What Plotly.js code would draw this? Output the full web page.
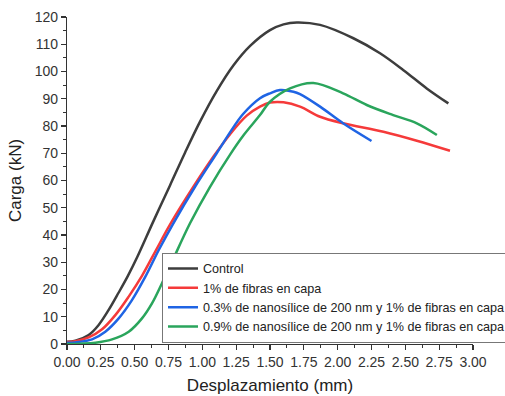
<!DOCTYPE html>
<html>
<head>
<meta charset="utf-8">
<script src="https://cdn.plot.ly/plotly-3.0.1.min.js"></script>
<style>html,body{margin:0;padding:0;background:#fff;}#chart{width:505px;height:396px;}</style>
</head>
<body>
<div id="chart"></div>
<script>
const seriesNames = [
  "Control",
  "1% de fibras en capa",
  "0.3% de nanosílice de 200 nm y 1% de fibras en capa",
  "0.9% de nanosílice de 200 nm y 1% de fibras en capa"
];
const controlX = [0, 0.062, 0.16, 0.234, 0.308, 0.382, 0.45, 0.52, 0.638, 0.761, 0.872, 0.983, 1.106, 1.229, 1.353, 1.5, 1.6, 1.698, 1.87, 2.116, 2.313, 2.486, 2.658, 2.818];
const controlY = [0.8, 1.2, 3.3, 7, 12.5, 18.9, 25, 32, 45, 58.2, 70.2, 81.6, 92.8, 102.2, 109.4, 115.2, 117.3, 118, 117.1, 112.2, 106.7, 100.5, 93.8, 88.3];
const fibrasX = [0, 0.062, 0.16, 0.259, 0.357, 0.456, 0.554, 0.653, 0.761, 0.934, 1.081, 1.205, 1.328, 1.426, 1.5, 1.6, 1.722, 1.87, 2.04, 2.338, 2.585, 2.83];
const fibrasY = [0.7, 1.0, 2.4, 5.4, 10.6, 17.4, 25, 34, 43.8, 57.7, 68.7, 77, 83.8, 87.1, 88.6, 88.7, 87.1, 83.4, 81, 77.9, 74.6, 70.9];
const nano03X = [0, 0.062, 0.185, 0.283, 0.382, 0.48, 0.579, 0.678, 0.786, 0.946, 1.106, 1.229, 1.303, 1.426, 1.5, 1.574, 1.673, 1.722, 1.87, 2.04, 2.25];
const nano03Y = [0.5, 0.6, 1.7, 4.5, 9.4, 16.1, 24.7, 34.5, 44.3, 57.7, 70, 79.5, 84.5, 90.2, 92, 93.2, 92.6, 91.7, 87.1, 81, 74.5];
const nano09X = [0, 0.21, 0.333, 0.456, 0.554, 0.628, 0.702, 0.776, 0.909, 1.057, 1.205, 1.303, 1.426, 1.5, 1.648, 1.82, 2.04, 2.215, 2.41, 2.585, 2.733];
const nano09Y = [0, 0.5, 1.7, 4.5, 9.4, 14.9, 22.3, 30.2, 44.3, 57.7, 69.5, 76.5, 84, 88.9, 93.8, 95.8, 92, 87.7, 84, 81, 76.7];
const xTickVals = [0, 0.25, 0.5, 0.75, 1.0, 1.25, 1.5, 1.75, 2.0, 2.25, 2.5, 2.75, 3.0];
const yTickVals = [0, 10, 20, 30, 40, 50, 60, 70, 80, 90, 100, 110, 120];

const colors = ["#3d3d3d", "#f53a3a", "#1f64e4", "#2aa55c"];
const xs = [controlX, fibrasX, nano03X, nano09X];
const ys = [controlY, fibrasY, nano03Y, nano09Y];

const traces = seriesNames.map((n, i) => ({
  x: xs[i], y: ys[i], name: n, type: "scatter", mode: "lines",
  line: {color: colors[i], width: 2.5, shape: "spline", smoothing: 1.0}
}));

const FAM = "Liberation Sans, Arial, sans-serif";
const axisFont = {family: FAM, size: 14, color: "#333"};
const layout = {
  width: 505, height: 396,
  margin: {l: 67, r: 32, t: 17, b: 52, autoexpand: false},
  paper_bgcolor: "#fff", plot_bgcolor: "#fff",
  font: {family: FAM, color: "#222"},
  showlegend: true,
  legend: {
    x: 0.234, y: 0.004, xanchor: "left", yanchor: "bottom",
    bgcolor: "#fff", bordercolor: "#777", borderwidth: 1,
    font: {family: FAM, size: 12.6, color: "#222"},
    tracegroupgap: 0
  },
  xaxis: {
    range: [0, 3.0], tickvals: xTickVals, ticktext: xTickVals.map(v => v.toFixed(2)),
    showgrid: false, zeroline: false, showline: true, linecolor: "#333", linewidth: 1.2,
    ticks: "outside", ticklen: 5, tickwidth: 1.2, tickcolor: "#333",
    minor: {ticks: "outside", ticklen: 3, tickwidth: 1, tickcolor: "#333", dtick: 0.125, tick0: 0, showgrid: false},
    tickfont: axisFont,
    title: {text: "Desplazamiento (mm)", font: {family: FAM, size: 17, color: "#222"}, standoff: 10},
    automargin: false
  },
  yaxis: {
    range: [0, 120], tickvals: yTickVals,
    showgrid: false, zeroline: false, showline: true, linecolor: "#333", linewidth: 1.2,
    ticks: "outside", ticklen: 5, tickwidth: 1.2, tickcolor: "#333",
    minor: {ticks: "outside", ticklen: 3, tickwidth: 1, tickcolor: "#333", dtick: 5, tick0: 0, showgrid: false},
    tickfont: axisFont,
    title: {text: "Carga (kN)", font: {family: FAM, size: 17, color: "#222"}, standoff: 8},
    automargin: false
  }
};

Plotly.newPlot("chart", traces, layout, {displayModeBar: false, staticPlot: true});
</script>
</body>
</html>
